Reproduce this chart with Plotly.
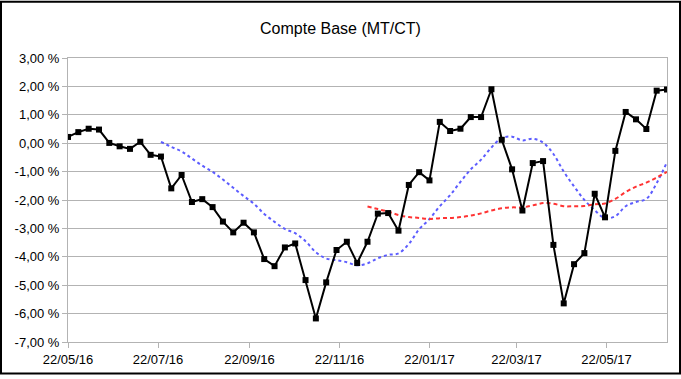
import pandas as pd
import plotly.graph_objects as go

# Weekly dates
dates = pd.date_range("2016-05-22", periods=59, freq="7D")

# Compte Base (black series), in %
compte_base = [
    0.22, 0.39, 0.51, 0.48, 0.01, -0.11, -0.20, 0.05, -0.41, -0.47,
    -1.59, -1.12, -2.07, -1.97, -2.25, -2.76, -3.14, -2.80, -3.14, -4.08,
    -4.33, -3.67, -3.53, -4.82, -6.17, -4.90, -3.76, -3.47, -4.22, -3.47,
    -2.48, -2.46, -3.08, -1.47, -1.02, -1.31, 0.75, 0.43, 0.51, 0.92,
    0.92, 1.90, 0.12, -0.92, -2.37, -0.70, -0.63, -3.58, -5.64, -4.26,
    -3.87, -1.78, -2.61, -0.27, 1.10, 0.84, 0.50, 1.85, 1.89,
]

# Blue dotted curve (short-term trend), starts at 10th point
blue_trend = [None] * 9 + [
    0.05, -0.13, -0.29, -0.54, -0.79, -1.01, -1.28, -1.57, -1.86, -2.13,
    -2.49, -2.77, -3.02, -3.17, -3.45, -3.84, -4.06, -4.12, -4.19, -4.30,
    -4.23, -4.05, -3.93, -3.88, -3.55, -3.03, -2.67, -2.22, -1.83, -1.36,
    -0.92, -0.58, -0.15, 0.18, 0.23, 0.10, 0.16, 0.02, -0.38, -1.00,
    -1.52, -2.00, -2.36, -2.64, -2.57, -2.22, -2.07, -1.96, -1.41, -0.66,
]

# Red dashed curve (long-term trend), starts at 30th point
red_trend = [None] * 29 + [
    -2.23, -2.32, -2.41, -2.53, -2.60, -2.63, -2.67, -2.64, -2.63, -2.60,
    -2.55, -2.47, -2.37, -2.29, -2.26, -2.26, -2.19, -2.11, -2.13, -2.22,
    -2.22, -2.21, -2.15, -2.12, -1.96, -1.72, -1.53, -1.39, -1.21, -1.01,
]

y_tick_vals = [3, 2, 1, 0, -1, -2, -3, -4, -5, -6, -7]
y_tick_text = ["3,00 %", "2,00 %", "1,00 %", "0,00 %", "-1,00 %", "-2,00 %",
               "-3,00 %", "-4,00 %", "-5,00 %", "-6,00 %", "-7,00 %"]
x_tick_vals = ["2016-05-22", "2016-07-22", "2016-09-22", "2016-11-22",
               "2017-01-22", "2017-03-22", "2017-05-22"]
x_tick_text = ["22/05/16", "22/07/16", "22/09/16", "22/11/16",
               "22/01/17", "22/03/17", "22/05/17"]

FONT = "Liberation Sans, Arial, sans-serif"
W, H = 681, 379
ML, MR, MT, MB = 68, 14, 58, 33

fig = go.Figure()
fig.add_trace(go.Scatter(
    x=dates, y=blue_trend, mode="lines",
    line=dict(color="#5c5cff", width=2, dash="3px,3px", shape="spline", smoothing=1),
    showlegend=False, hoverinfo="skip"))
fig.add_trace(go.Scatter(
    x=dates, y=red_trend, mode="lines",
    line=dict(color="#ff3333", width=2, dash="4px,3px", shape="spline", smoothing=1),
    showlegend=False, hoverinfo="skip"))
fig.add_trace(go.Scatter(
    x=dates, y=compte_base, mode="lines+markers",
    line=dict(color="black", width=2),
    marker=dict(symbol="square", size=6, color="black"),
    showlegend=False))

pw = W - ML - MR
ph = H - MT - MB
fig.add_shape(type="rect", xref="paper", yref="paper",
              x0=-(ML - 1) / pw, x1=1 + (MR - 1) / pw,
              y0=-(MB - 1) / ph, y1=1 + (MT - 1) / ph,
              line=dict(color="black", width=2), layer="above")

fig.update_layout(
    width=W, height=H,
    margin=dict(l=ML, r=MR, t=MT, b=MB, pad=0),
    paper_bgcolor="white", plot_bgcolor="white",
    font=dict(family=FONT, size=13, color="black"),
    title=dict(text="Compte Base (MT/CT)", x=0.5, xanchor="center",
               y=1 - 28 / H, yanchor="middle",
               font=dict(family=FONT, size=16, color="black")),
    xaxis=dict(range=["2016-05-22", "2017-07-02"], tickvals=x_tick_vals,
               ticktext=x_tick_text, showgrid=False, showline=True,
               linecolor="#b3b3b3", linewidth=1, mirror=True,
               ticks="outside", ticklen=5, tickcolor="#b3b3b3",
               tickfont=dict(size=13), zeroline=False),
    yaxis=dict(range=[-7, 3], tickvals=y_tick_vals, ticktext=y_tick_text,
               showgrid=True, gridcolor="#b3b3b3", gridwidth=1,
               showline=True, linecolor="#b3b3b3", linewidth=1, mirror=True,
               ticks="outside", ticklen=5, tickcolor="#b3b3b3",
               tickfont=dict(size=13), zeroline=False),
)

fig.write_html("out.html", config={"displayModeBar": False},
               post_script="document.body.style.margin='0';")
